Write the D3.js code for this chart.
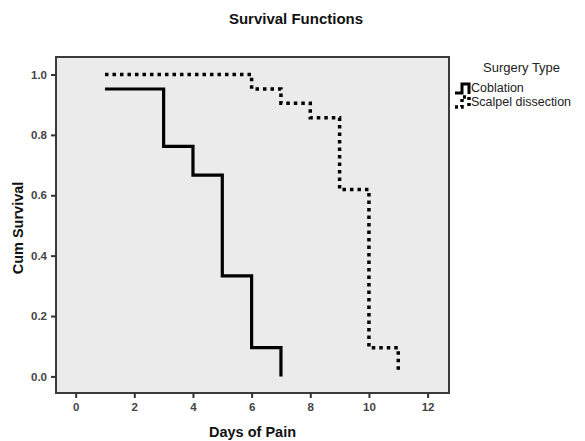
<!DOCTYPE html>
<html>
<head>
<meta charset="utf-8">
<script src="https://cdn.jsdelivr.net/npm/d3@7"></script>
<style>
  body { margin: 0; background: #fff; }
  text { font-family: "Liberation Sans", Arial, sans-serif; }
</style>
</head>
<body>
<div id="chart"></div>
<script>
// Kaplan-Meier survival steps
const coblationDays = [1, 3, 4, 5, 6, 7];
const coblationSurvival = [0.952, 0.762, 0.667, 0.333, 0.095, 0.0];
const scalpelDays = [1, 6, 7, 8, 9, 10, 11];
const scalpelSurvival = [1.0, 0.952, 0.905, 0.857, 0.619, 0.095, 0.01];
const xTicks = [0, 2, 4, 6, 8, 10, 12];
const yTicks = [0.0, 0.2, 0.4, 0.6, 0.8, 1.0];
const legendLabels = ["Coblation", "Scalpel dissection"];

const width = 585, height = 441;
const frame = { left: 56, top: 57, right: 449, bottom: 393 };

const svg = d3.select("#chart").append("svg")
    .attr("width", width)
    .attr("height", height);

const x = d3.scaleLinear().domain([-0.67, 12.73]).range([frame.left, frame.right]);
const y = d3.scaleLinear().domain([-0.055, 1.058]).range([frame.bottom, frame.top]);

// plot background + frame
svg.append("rect")
    .attr("x", frame.left).attr("y", frame.top)
    .attr("width", frame.right - frame.left)
    .attr("height", frame.bottom - frame.top)
    .attr("fill", "#ebebeb")
    .attr("stroke", "#3a3a3a")
    .attr("stroke-width", 2);

// axes
const xAxis = svg.append("g")
    .attr("transform", `translate(0,${frame.bottom})`)
    .call(d3.axisBottom(x).tickValues(xTicks).tickFormat(d3.format("d")).tickSize(5).tickPadding(5));
const yAxis = svg.append("g")
    .attr("transform", `translate(${frame.left},0)`)
    .call(d3.axisLeft(y).tickValues(yTicks).tickFormat(d3.format(".1f")).tickSize(5).tickPadding(4));

[xAxis, yAxis].forEach(a => {
    a.select(".domain").remove();
    a.selectAll("line").attr("stroke", "#333").attr("stroke-width", 2);
    a.selectAll("text")
        .attr("fill", "#444")
        .style("font-size", "11.5px")
        .style("font-weight", "bold");
});

// titles
svg.append("text")
    .attr("x", 296).attr("y", 24)
    .attr("text-anchor", "middle")
    .style("font-size", "15px").style("font-weight", "bold")
    .attr("fill", "#111")
    .text("Survival Functions");

svg.append("text")
    .attr("x", (frame.left + frame.right) / 2).attr("y", 437)
    .attr("text-anchor", "middle")
    .style("font-size", "14.5px").style("font-weight", "bold")
    .attr("fill", "#111")
    .text("Days of Pain");

svg.append("text")
    .attr("transform", "translate(23,228) rotate(-90)")
    .attr("text-anchor", "middle")
    .style("font-size", "14.5px").style("font-weight", "bold")
    .attr("fill", "#111")
    .text("Cum Survival");

// survival curves
const step = d3.line()
    .x(d => x(d[0]))
    .y(d => y(d[1]))
    .curve(d3.curveStepAfter);

svg.append("path")
    .datum(d3.zip(coblationDays, coblationSurvival))
    .attr("d", step)
    .attr("fill", "none")
    .attr("stroke", "#000")
    .attr("stroke-width", 3.2);

svg.append("path")
    .datum(d3.zip(scalpelDays, scalpelSurvival))
    .attr("d", step)
    .attr("fill", "none")
    .attr("stroke", "#000")
    .attr("stroke-width", 3.5)
    .attr("stroke-dasharray", "3.5,4");

// legend
const legend = svg.append("g");
legend.append("text")
    .attr("x", 483).attr("y", 72)
    .style("font-size", "13px")
    .attr("fill", "#222")
    .text("Surgery Type");

legend.append("path")
    .attr("d", "M455,93 H462 V84 H469 V94")
    .attr("fill", "none").attr("stroke", "#000").attr("stroke-width", 3);
legend.append("path")
    .attr("d", "M455,107 H462 V97 H469 V106")
    .attr("fill", "none").attr("stroke", "#000").attr("stroke-width", 3.5)
    .attr("stroke-dasharray", "3,3");

legend.selectAll(".lab")
    .data(legendLabels)
    .enter()
    .append("text")
    .attr("class", "lab")
    .attr("x", 471)
    .attr("y", (d, i) => 92 + i * 13.5)
    .style("font-size", "12.5px")
    .attr("fill", "#222")
    .text(d => d);
</script>
</body>
</html>
